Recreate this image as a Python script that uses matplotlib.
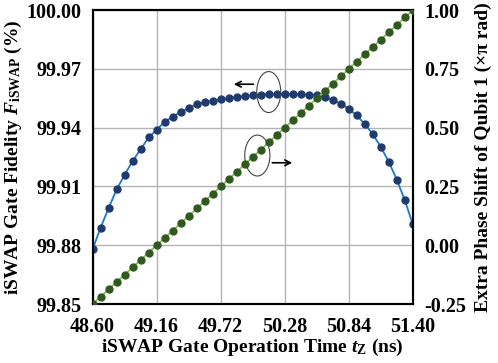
import matplotlib
matplotlib.use('Agg')
import matplotlib.pyplot as plt
from matplotlib.patches import Ellipse

plt.rcParams['font.family'] = ['Liberation Serif', 'DejaVu Serif']
plt.rcParams['font.weight'] = 'bold'
plt.rcParams['mathtext.fontset'] = 'custom'
plt.rcParams['mathtext.rm'] = 'Liberation Serif:bold'
plt.rcParams['mathtext.it'] = 'Liberation Serif:bold:italic'
plt.rcParams['mathtext.bf'] = 'Liberation Serif:bold'

# gate operation time (ns)
t_z = [48.60, 48.67, 48.74, 48.81, 48.88, 48.95, 49.02, 49.09, 49.16, 49.23,
       49.30, 49.37, 49.44, 49.51, 49.58, 49.65, 49.72, 49.79, 49.86, 49.93,
       50.00, 50.07, 50.14, 50.21, 50.28, 50.35, 50.42, 50.49, 50.56, 50.63,
       50.70, 50.77, 50.84, 50.91, 50.98, 51.05, 51.12, 51.19, 51.26, 51.33,
       51.40]

# iSWAP fidelity (%)
fidelity = [99.878, 99.889, 99.899, 99.9085, 99.916, 99.923, 99.929, 99.935,
            99.939, 99.943, 99.9456, 99.948, 99.950, 99.952, 99.953, 99.9537,
            99.9544, 99.955, 99.9558, 99.956, 99.9565, 99.9568, 99.957, 99.957,
            99.9571, 99.9571, 99.9571, 99.9568, 99.9565, 99.9555, 99.9541,
            99.9522, 99.9495, 99.9463, 99.9418, 99.9367, 99.9301, 99.9226,
            99.9134, 99.9029, 99.8907]

# extra phase shift of qubit 1 (x pi rad)
phase = [-0.25, -0.2188, -0.1875, -0.1563, -0.125, -0.0938, -0.0625, -0.0313,
         0.0, 0.0313, 0.0625, 0.0938, 0.125, 0.1563, 0.1875, 0.2188, 0.25,
         0.2813, 0.3125, 0.3438, 0.375, 0.4063, 0.4375, 0.4688, 0.5, 0.5313,
         0.5625, 0.5938, 0.625, 0.6563, 0.6875, 0.7188, 0.75, 0.7813, 0.8125,
         0.8438, 0.875, 0.9063, 0.9375, 0.9688, 1.0]

x_ticks = [48.60, 49.16, 49.72, 50.28, 50.84, 51.40]
y1_ticks = [99.85, 99.88, 99.91, 99.94, 99.97, 100.00]
y2_ticks = [-0.25, 0.00, 0.25, 0.50, 0.75, 1.00]

fig = plt.figure(figsize=(4.98, 3.63), dpi=100)
ax1 = fig.add_axes([0.186, 0.1625, 0.643, 0.8095])
ax2 = ax1.twinx()

ax1.plot(t_z, fidelity, '-', color='#1a7ad0', lw=1.3, marker='o', ms=5,
         mfc='#1f3a6e', mec='#1f3a6e', zorder=3)
ax2.plot(t_z, phase, '-', color='#8cc24a', lw=1.3, marker='o', ms=5,
         mfc='#2f5a1f', mec='#2f5a1f', zorder=3)

ax1.set_xlim(48.60, 51.40)
ax1.set_ylim(99.85, 100.00)
ax2.set_ylim(-0.25, 1.00)
ax1.set_xticks(x_ticks)
ax1.set_xticklabels(['%.2f' % v for v in x_ticks])
ax1.set_yticks(y1_ticks)
ax1.set_yticklabels(['%.2f' % v for v in y1_ticks])
ax2.set_yticks(y2_ticks)
ax2.set_yticklabels(['%.2f' % v for v in y2_ticks])

ax1.grid(True, color='#b4b4b4', lw=1)
ax1.set_axisbelow(True)
for a in (ax1, ax2):
    a.tick_params(length=0, labelsize=14.5, pad=8)
    for s in a.spines.values():
        s.set_linewidth(1.5)
        s.set_color('black')
ax1.tick_params(axis='x', pad=9)

ax1.set_xlabel(r'iSWAP Gate Operation Time $t_{\mathrm{Z}}$ (ns)', fontsize=14,
               fontweight='bold', labelpad=0)
ax1.set_ylabel(r'iSWAP Gate Fidelity $F_{\mathrm{iSWAP}}$ (%)', fontsize=14,
               fontweight='bold', labelpad=2)
ax2.set_ylabel(u'Extra Phase Shift of Qubit 1 (×π rad)', fontsize=14,
               fontweight='bold', labelpad=6)

# annotations
ax1.add_patch(Ellipse((50.14, 99.9582), 0.21, 0.0209, fill=False,
                      ec='#444444', lw=0.8, zorder=5))
ax1.annotate('', xy=(49.81, 99.9622), xytext=(50.03, 99.9622),
             arrowprops=dict(arrowstyle='->', color='black', lw=1.2), zorder=5)
ax1.add_patch(Ellipse((50.04, 99.9258), 0.22, 0.0209, fill=False,
                      ec='#444444', lw=0.8, zorder=5))
ax1.annotate('', xy=(50.37, 99.9221), xytext=(50.147, 99.9221),
             arrowprops=dict(arrowstyle='->', color='black', lw=1.2), zorder=5)

plt.savefig('out.png', dpi=100)
